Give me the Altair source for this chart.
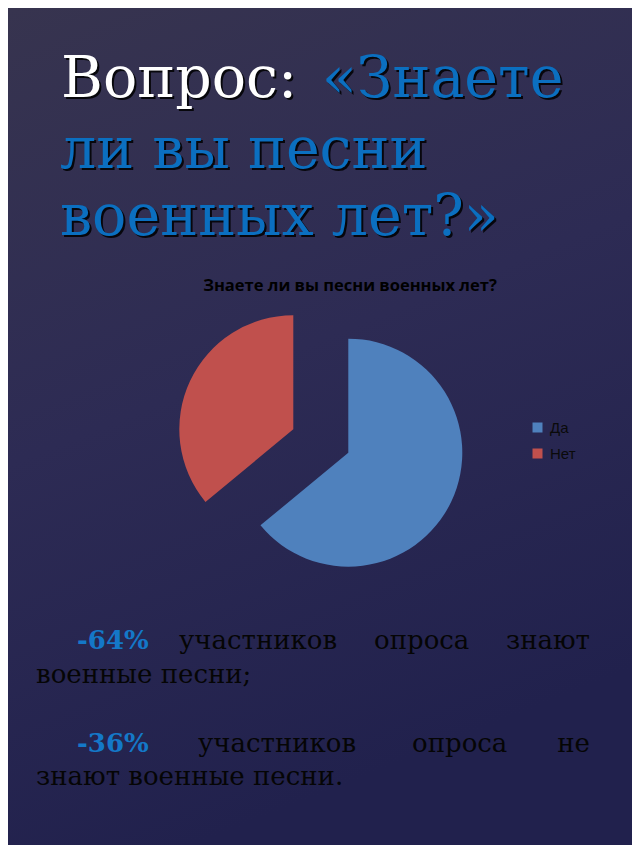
import math
import altair as alt
import pandas as pd

# ---------------- data ----------------
categories = ["Да", "Нет"]
values = [64, 36]
slice_colors = ["#4F81BD", "#C0504D"]

chart_title = "Знаете ли вы песни военных лет?"
heading_white = "Вопрос:"
heading_blue = ["«Знаете", "ли вы песни", "военных лет?»"]
line1_words = ["-64%", "участников", "опроса", "знают"]
line2_text = "военные песни;"
line3_words = ["-36%", "участников", "опроса", "не"]
line4_text = "знают военные песни."

W, H = 624, 837
OX, OY = 8, 8  # page margin offset

one = alt.Data(values=[{"t": 0}])


def text_layer(s, x, y, size, color, font, weight="normal", align="left", shadow=False):
    layers = []
    d = alt.Data(values=[{"t": s}])
    if shadow:
        layers.append(
            alt.Chart(d).mark_text(
                align=align, baseline="alphabetic", fontSize=size, font=font,
                fontWeight=weight, color="#000000", opacity=0.85,
            ).encode(text="t:N", x=alt.value(x - OX + 2), y=alt.value(y - OY + 2))
        )
    layers.append(
        alt.Chart(d).mark_text(
            align=align, baseline="alphabetic", fontSize=size, font=font,
            fontWeight=weight, color=color,
        ).encode(text="t:N", x=alt.value(x - OX), y=alt.value(y - OY))
    )
    return layers


# background gradient
bg = alt.Chart(one).mark_rect(
    fill=alt.LinearGradient(
        gradient="linear",
        stops=[
            alt.GradientStop(color="#37344f", offset=0),
            alt.GradientStop(color="#2d2b54", offset=0.5),
            alt.GradientStop(color="#21214d", offset=1),
        ],
        x1=0, x2=0.3, y1=0, y2=1,
    )
).encode(x=alt.value(0), x2=alt.value(W), y=alt.value(0), y2=alt.value(H))

layers = [bg]

# heading
SERIF = "DejaVu Serif"
BLUE = "#0b6fc0"
HS = 57
layers += text_layer(heading_white, 61, 97, HS, "#ffffff", SERIF, shadow=True)
layers += text_layer(heading_blue[0], 322, 97, HS, BLUE, SERIF, shadow=True)
layers += text_layer(heading_blue[1], 60, 168, HS, BLUE, SERIF, shadow=True)
layers += text_layer(heading_blue[2], 60, 235, HS, BLUE, SERIF, shadow=True)

# chart title
layers += text_layer(chart_title, 350, 291, 16.5, "#000000", "Open Sans", weight="bold", align="center")

# pie
pie_df = pd.DataFrame({"cat": categories, "value": values, "idx": list(range(len(categories)))})
base = (
    alt.Chart(pie_df)
    .transform_joinaggregate(total="sum(value)")
    .transform_window(cum="sum(value)", sort=[alt.SortField("idx")])
    .transform_calculate(
        start="(datum.cum - datum.value) / datum.total",
        end="datum.cum / datum.total",
    )
)
R = 114
centers = {"Да": (348.3, 452.7), "Нет": (293.3, 429.3)}
legend = alt.Legend(
    orient="none", legendX=530 - OX, legendY=420 - OY, title=None,
    symbolType="square", symbolSize=100, symbolStrokeWidth=0,
    labelFontSize=15, labelFont="Liberation Sans", labelColor="#0a0a0a",
    rowPadding=10, padding=0, labelOffset=5,
)
for c in categories:
    cx, cy = centers[c]
    layers.append(
        base.transform_filter(alt.datum.cat == c)
        .mark_arc(radius=R, stroke=None)
        .encode(
            theta=alt.Theta("start:Q", scale=alt.Scale(domain=[0, 1], range=[0, 2 * math.pi])),
            theta2="end:Q",
            color=alt.Color("cat:N", scale=alt.Scale(domain=categories, range=slice_colors), legend=legend),
            x=alt.value(cx - OX),
            y=alt.value(cy - OY),
        )
    )

# bottom text
BS = 26
BB = "#1478c8"
TXT = "#050505"
layers += text_layer(line1_words[0], 77, 649, BS, BB, SERIF, weight="bold")
layers += text_layer(line1_words[1], 179, 649, BS, TXT, SERIF)
layers += text_layer(line1_words[2], 374, 649, BS, TXT, SERIF)
layers += text_layer(line1_words[3], 590, 649, BS, TXT, SERIF, align="right")
layers += text_layer(line2_text, 36, 683, BS, TXT, SERIF)
layers += text_layer(line3_words[0], 77, 752, BS, BB, SERIF, weight="bold")
layers += text_layer(line3_words[1], 198, 752, BS, TXT, SERIF)
layers += text_layer(line3_words[2], 412, 752, BS, TXT, SERIF)
layers += text_layer(line3_words[3], 590, 752, BS, TXT, SERIF, align="right")
layers += text_layer(line4_text, 36, 785, BS, TXT, SERIF)

chart = (
    alt.layer(*layers)
    .properties(width=W, height=H, padding=0, autosize="none", background="#2b2a52")
    .configure_view(stroke=None)
)

chart.save("out.html", embed_options={"renderer": "svg", "actions": False})
